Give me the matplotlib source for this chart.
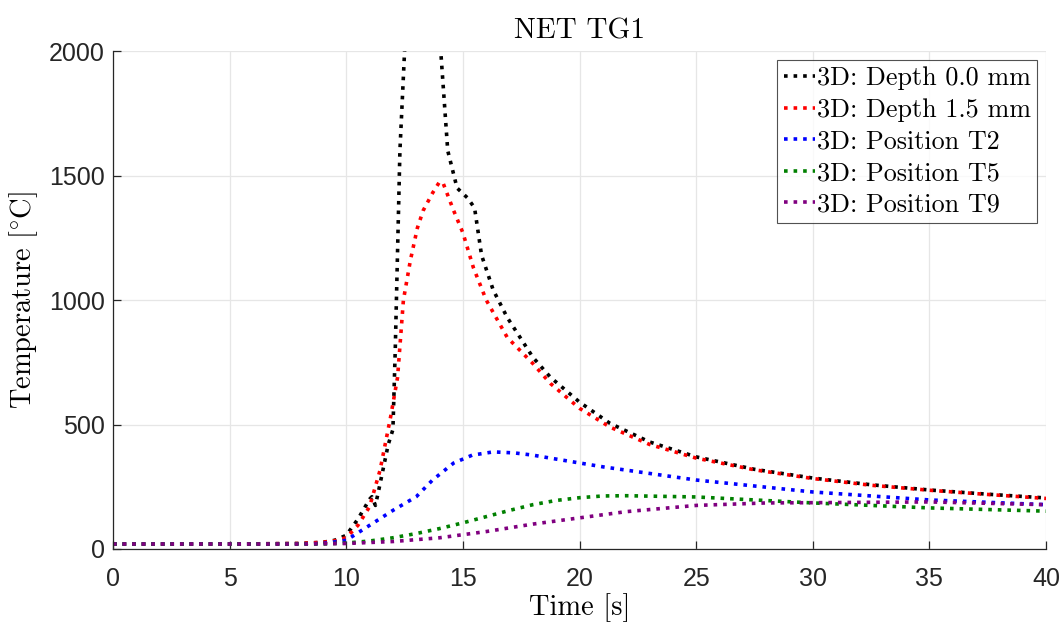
import matplotlib
matplotlib.use('Agg')
import matplotlib.pyplot as plt

plt.rcParams['mathtext.fontset'] = 'cm'

# Depth 0.0 mm (peak goes above the axis limit)
t_d00 = [0, 5, 8, 9, 9.5, 10, 10.5, 11, 11.1, 11.25, 11.4, 11.6, 11.8, 12.0, 12.1, 12.2, 12.3,
         12.5, 13.2, 14.05, 14.35, 14.75, 15.2, 15.5, 15.8, 16.3, 16.9, 18.0, 18.75, 20, 21.3,
         23, 25, 27.5, 30, 32.5, 35, 37.5, 40]
v_d00 = [20, 20, 22, 27, 35, 55, 120, 200, 210, 175, 240, 330, 420, 480, 800, 1200, 1600,
         2000, 2800, 2000, 1600, 1450, 1410, 1370, 1180, 1040, 930, 770, 690, 590, 505,
         430, 370, 320, 285, 258, 237, 220, 205]

# Depth 1.5 mm
t_d15 = [0, 5, 8, 9, 9.5, 10, 10.5, 11, 11.45, 11.9, 12.2, 12.45, 12.75, 13.05, 13.3, 13.7,
         14.0, 14.15, 14.6, 15.0, 15.45, 16.0, 16.9, 18.0, 18.75, 20, 21.3, 23, 25, 27.5, 30,
         32.5, 35, 37.5, 40]
v_d15 = [20, 20, 22, 27, 33, 45, 95, 170, 317, 530, 690, 1000, 1160, 1290, 1360, 1430,
         1475, 1470, 1360, 1270, 1130, 1000, 850, 745, 665, 565, 490, 420, 365, 318, 283,
         256, 236, 219, 203]

# Position T2
t_t2 = [0, 5, 8, 9, 10, 11, 12, 13, 13.7, 14.6, 15.4, 16.3, 17.2, 18, 18.75, 21, 25, 30, 35, 40]
v_t2 = [20, 20, 20, 22, 35, 95, 155, 210, 277, 345, 377, 390, 386, 377, 365, 330, 277, 229, 197, 178]

# Position T5
t_t5 = [0, 5, 8, 9, 10, 11, 12, 13, 14, 15, 16, 17, 18, 19, 20, 21, 22, 25, 30, 35, 40]
v_t5 = [20, 20, 20, 20, 24, 32, 45, 62, 82, 105, 130, 155, 178, 195, 206, 213, 214, 209, 185, 165, 152]

# Position T9
t_t9 = [0, 5, 8, 10, 12, 14, 16, 18, 20, 22, 25, 28, 30, 35, 40]
v_t9 = [20, 20, 20, 22, 30, 45, 70, 100, 125, 150, 175, 185, 186, 189, 178]

labels = ['3D: Depth 0.0 mm', '3D: Depth 1.5 mm', '3D: Position T2',
          '3D: Position T5', '3D: Position T9']
colors = ['black', 'red', 'blue', 'green', 'purple']

fig = plt.figure(figsize=(10.62, 6.23), dpi=100)
ax = fig.add_axes([0.1064, 0.1188, 0.8786, 0.7992])

series = [(t_d00, v_d00), (t_d15, v_d15), (t_t2, v_t2), (t_t5, v_t5), (t_t9, v_t9)]
for (t, v), lab, c in zip(series, labels, colors):
    ax.plot(t, v, linestyle=':', linewidth=2.6, color=c, label=lab)

ax.set_xlim(0, 40)
ax.set_ylim(0, 2000)
ax.set_xticks(range(0, 41, 5))
ax.set_yticks([0, 500, 1000, 1500, 2000])
ax.grid(True, color='#e6e6e6', linewidth=0.9)
ax.set_axisbelow(True)
for s in ['top', 'right']:
    ax.spines[s].set_visible(False)
for s in ['left', 'bottom']:
    ax.spines[s].set_color('#262626')
    ax.spines[s].set_linewidth(0.9)
ax.tick_params(direction='in', length=6, width=0.9, colors='#262626', labelsize=18)
ax.tick_params(axis='x', pad=13)
ax.tick_params(axis='y', pad=6)
for lb in ax.get_xticklabels() + ax.get_yticklabels():
    lb.set_fontfamily('Liberation Sans')

ax.set_title('NET TG1', fontfamily='cmr10', fontsize=21, pad=9)
ax.set_xlabel('Time [s]', fontfamily='cmr10', fontsize=20.5, labelpad=1.5)
ax.set_ylabel(r'Temperature [$\!^\circ\!$C]', fontfamily='cmr10', fontsize=20.5, labelpad=6)

leg = ax.legend(loc='upper right', bbox_to_anchor=(0.9904, 0.982),
                prop={'family': 'cmr10', 'size': 18.8}, frameon=True, fancybox=False,
                handlelength=1.2, handletextpad=0.05, borderpad=0.25, labelspacing=0.3,
                borderaxespad=0)
leg.get_frame().set_edgecolor('#262626')
leg.get_frame().set_linewidth(0.8)

fig.savefig('out.png', dpi=100)
